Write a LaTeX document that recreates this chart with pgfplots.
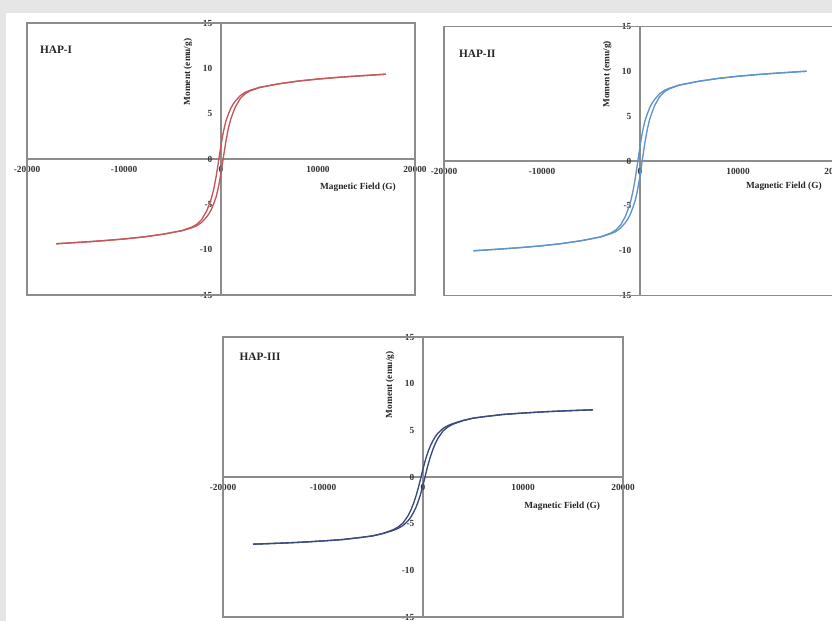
\documentclass[border=0pt]{standalone}
\usepackage{pgfplots}
\pgfplotsset{compat=1.18}
\usepackage{fontspec}
\setmainfont{Liberation Serif}
\definecolor{bgGray}{HTML}{E6E6E6}
\definecolor{axGray}{HTML}{8C8C8C}
\definecolor{redLoop}{HTML}{C4575A}
\definecolor{blueLoop}{HTML}{5F93CC}
\definecolor{navyLoop}{HTML}{3A4A7E}

\pgfplotsset{
  hyst/.style={
    scale only axis,
    axis lines=middle,
    clip=false,
    xmin=-20000, xmax=20000, ymin=-15, ymax=15,
    xtick={-20000,-10000,0,10000,20000},
    ytick={-15,-10,-5,0,5,10,15},
    hide obscured x ticks=false,
    hide obscured y ticks=false,
    scaled x ticks=false,
    major tick length=0pt,
    axis line style={axGray, line width=0.9pt, -},
    /pgf/number format/assume math mode=true,
    /pgf/number format/1000 sep={},
    tick label style={font=\fontsize{7}{8}\selectfont\bfseries, text=black!80},
    xticklabel style={anchor=north, yshift=-2.3pt},
    yticklabel style={anchor=east, xshift=-3pt},
    label style={font=\fontsize{7}{8}\selectfont\bfseries, text=black!85},
    x label style={anchor=center},
    y label style={anchor=center, rotate=90},
  }
}

\begin{document}
\begin{tikzpicture}
\path[use as bounding box] (0,0) rectangle (624pt,465.75pt);
\clip (0,0) rectangle (624pt,465.75pt);
\fill[bgGray] (0,0) rectangle (624pt,465.75pt);
\fill[white] (4.5pt,0) rectangle (624pt,456pt);

% ---------------- HAP-I ----------------
\begin{axis}[hyst,
  at={(20.25pt,244.5pt)}, anchor=south west,
  width=291pt, height=204pt,
  xlabel={Magnetic Field (G)},
  ylabel={Moment (emu/g)},
  x label style={at={(rel axis cs:0.853,0.397)}},
  y label style={at={(rel axis cs:0.415,0.820)}},
]
\draw[axGray, line width=1.1pt] (rel axis cs:0,0) rectangle (rel axis cs:1,1);
\node[font=\fontsize{8.5}{9}\selectfont\bfseries, text=black!85] at (rel axis cs:0.075,0.90) {HAP-I};
\addplot[redLoop, line width=1pt] coordinates {
(-17000,-9.35) (-14000,-9.15) (-12000,-9.0) (-10000,-8.82) (-8000,-8.6) (-6000,-8.3)
(-5000,-8.1) (-4000,-7.91) (-3000,-7.58) (-2500,-7.36) (-2000,-7.0) (-1500,-6.42)
(-1250,-6.05) (-1000,-5.57) (-750,-4.92) (-500,-4.17) (-250,-3.03) (0,-1.54)
(250,0.21) (500,1.92) (750,3.33) (1000,4.38) (1250,5.13) (1500,5.79) (2000,6.69)
(2500,7.21) (3000,7.51) (4000,7.89) (5000,8.1) (6000,8.3) (8000,8.6) (10000,8.82)
(12000,9.0) (14000,9.15) (17000,9.35)
};
\addplot[redLoop, line width=1pt] coordinates {
(17000,9.35) (14000,9.15) (12000,9.0) (10000,8.82) (8000,8.6) (6000,8.3)
(5000,8.1) (4000,7.91) (3000,7.58) (2500,7.36) (2000,7.0) (1500,6.42)
(1250,6.05) (1000,5.57) (750,4.92) (500,4.17) (250,3.03) (0,1.54)
(-250,-0.21) (-500,-1.92) (-750,-3.33) (-1000,-4.38) (-1250,-5.13) (-1500,-5.79) (-2000,-6.69)
(-2500,-7.21) (-3000,-7.51) (-4000,-7.89) (-5000,-8.1) (-6000,-8.3) (-8000,-8.6) (-10000,-8.82)
(-12000,-9.0) (-14000,-9.15) (-17000,-9.35)
};
\end{axis}

% ---------------- HAP-II ----------------
\begin{axis}[hyst,
  at={(333pt,244pt)}, anchor=south west,
  width=294pt, height=202pt,
  xlabel={Magnetic Field (G)},
  ylabel={Moment (emu/g)},
  x label style={at={(rel axis cs:0.867,0.406)}},
  y label style={at={(rel axis cs:0.416,0.822)}},
]
\draw[axGray, line width=1.1pt] (rel axis cs:0,0) rectangle (rel axis cs:1,1);
\node[font=\fontsize{8.5}{9}\selectfont\bfseries, text=black!85] at (rel axis cs:0.085,0.897) {HAP-II};
\addplot[blueLoop, line width=1pt] coordinates {
(-17000,-10.0) (-14000,-9.79) (-12000,-9.63) (-10000,-9.44) (-8000,-9.2) (-6000,-8.88)
(-5000,-8.67) (-4000,-8.46) (-3000,-8.11) (-2500,-7.88) (-2000,-7.49) (-1500,-6.87)
(-1250,-6.47) (-1000,-5.96) (-750,-5.26) (-500,-4.46) (-250,-3.24) (0,-1.65)
(250,0.22) (500,2.05) (750,3.56) (1000,4.69) (1250,5.49) (1500,6.2) (2000,7.16)
(2500,7.71) (3000,8.04) (4000,8.44) (5000,8.67) (6000,8.88) (8000,9.2) (10000,9.44)
(12000,9.63) (14000,9.79) (17000,10.0)
};
\addplot[blueLoop, line width=1pt] coordinates {
(17000,10.0) (14000,9.79) (12000,9.63) (10000,9.44) (8000,9.2) (6000,8.88)
(5000,8.67) (4000,8.46) (3000,8.11) (2500,7.88) (2000,7.49) (1500,6.87)
(1250,6.47) (1000,5.96) (750,5.26) (500,4.46) (250,3.24) (0,1.65)
(-250,-0.22) (-500,-2.05) (-750,-3.56) (-1000,-4.69) (-1250,-5.49) (-1500,-6.2) (-2000,-7.16)
(-2500,-7.71) (-3000,-8.04) (-4000,-8.44) (-5000,-8.67) (-6000,-8.88) (-8000,-9.2) (-10000,-9.44)
(-12000,-9.63) (-14000,-9.79) (-17000,-10.0)
};
\end{axis}

% ---------------- HAP-III ----------------
\begin{axis}[hyst,
  at={(167.25pt,3pt)}, anchor=south west,
  width=300pt, height=210pt,
  xlabel={Magnetic Field (G)},
  ylabel={Moment (emu/g)},
  x label style={at={(rel axis cs:0.848,0.396)}},
  y label style={at={(rel axis cs:0.4175,0.829)}},
]
\draw[axGray, line width=1.1pt] (rel axis cs:0,0) rectangle (rel axis cs:1,1);
\node[font=\fontsize{8.5}{9}\selectfont\bfseries, text=black!85] at (rel axis cs:0.0925,0.929) {HAP-III};
\addplot[navyLoop, line width=1pt] coordinates {
(-17000,-7.2) (-14000,-7.08) (-12000,-6.98) (-10000,-6.85) (-8000,-6.7) (-6000,-6.45)
(-5000,-6.3) (-4000,-6.06) (-3000,-5.73) (-2500,-5.51) (-2000,-5.2) (-1500,-4.70)
(-1250,-4.36) (-1000,-3.9) (-750,-3.37) (-500,-2.69) (-250,-1.86) (0,-0.88)
(250,0.22) (500,1.29) (750,2.21) (1000,2.98) (1250,3.64) (1500,4.16) (2000,4.93)
(2500,5.37) (3000,5.66) (4000,6.04) (5000,6.3) (6000,6.45) (8000,6.7) (10000,6.85)
(12000,6.98) (14000,7.08) (17000,7.2)
};
\addplot[navyLoop, line width=1pt] coordinates {
(17000,7.2) (14000,7.08) (12000,6.98) (10000,6.85) (8000,6.7) (6000,6.45)
(5000,6.3) (4000,6.06) (3000,5.73) (2500,5.51) (2000,5.2) (1500,4.70)
(1250,4.36) (1000,3.9) (750,3.37) (500,2.69) (250,1.86) (0,0.88)
(-250,-0.22) (-500,-1.29) (-750,-2.21) (-1000,-2.98) (-1250,-3.64) (-1500,-4.16) (-2000,-4.93)
(-2500,-5.37) (-3000,-5.66) (-4000,-6.04) (-5000,-6.3) (-6000,-6.45) (-8000,-6.7) (-10000,-6.85)
(-12000,-6.98) (-14000,-7.08) (-17000,-7.2)
};
\end{axis}
\end{tikzpicture}
\end{document}
